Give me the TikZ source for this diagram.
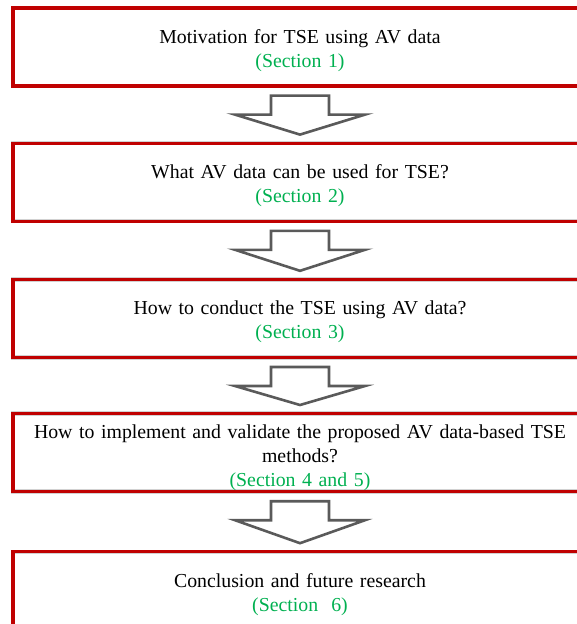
\documentclass[tikz,border=0pt]{standalone}
\usepackage{fontspec}
\setmainfont{Liberation Serif}
\usetikzlibrary{positioning,calc}
\definecolor{boxred}{HTML}{C00000}
\definecolor{secgreen}{HTML}{00B050}
\definecolor{arrgray}{HTML}{5A5A5A}
\newcommand{\topgap}{\rule{0pt}{21pt}}

\begin{document}
\begin{tikzpicture}[
  font=\fontsize{19.8}{24}\selectfont,
  box/.style={draw=boxred, line width=3.2pt, preaction={draw=black!18, line width=4.4pt},
    align=center, text width=560pt, minimum width=574pt, minimum height=78pt,
    inner xsep=2pt, inner ysep=0pt},
  blockarr/.style={draw=arrgray, line width=2.6pt, fill=white, line join=miter}
]
\useasboundingbox (0,0) rectangle (577pt,-624pt);
\clip (0,0) rectangle (577pt,-624pt);

% --- stack of sections ---
\node[box] (motiv) at (300pt,-47pt)
  {\topgap Motivation for TSE using AV data\\ \textcolor{secgreen}{(Section 1)}};
\node[box, below=54pt of motiv] (avdata)
  {\topgap What AV data can be used for TSE?\\ \textcolor{secgreen}{(Section 2)}};
\node[box, below=55pt of avdata] (conduct)
  {\topgap How to conduct the TSE using AV data?\\ \textcolor{secgreen}{(Section 3)}};
\node[box, below=53pt of conduct] (implval)
  {\rule{0pt}{23.5pt}How to implement and validate the proposed AV data-based TSE\\ methods?\\
   \textcolor{secgreen}{(Section 4 and 5)}};
\node[box, below=57pt of implval] (concl)
  {\topgap Conclusion and future research\\ \textcolor{secgreen}{(Section\ \ 6)}};

% --- block arrows between boxes ---
\foreach \a/\b in {motiv/avdata, avdata/conduct, conduct/implval, implval/concl}
  \draw[blockarr] ($(\a.south)+(-29pt,-8pt)$) -- ++(58pt,0) -- ++(0,-19pt) -- ++(36pt,0)
    -- ($(\b.north)+(0,7pt)$) -- ($(\a.south)+(-65pt,-27pt)$) -- ++(36pt,0) -- cycle;
\end{tikzpicture}
\end{document}
